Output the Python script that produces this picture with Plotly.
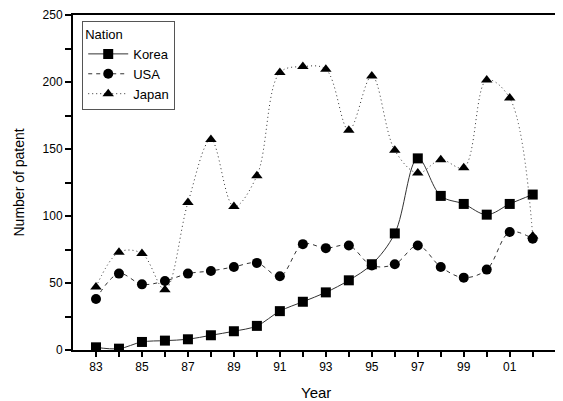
import plotly.graph_objects as go

years = list(range(83, 103))
tick_labels = ["83", "", "85", "", "87", "", "89", "", "91", "", "93", "", "95", "", "97", "", "99", "", "01", ""]

korea = [2, 1, 6, 7, 8, 11, 14, 18, 29, 36, 43, 52, 64, 87, 143, 115, 109, 101, 109, 116]
usa = [38, 57, 49, 51.5, 57, 59, 62, 65, 55, 79, 76, 78, 63, 64, 78, 62, 54, 60, 88, 83]
japan = [47, 73, 72, 45, 110, 157, 107, 130, 207, 211.5, 209.5, 164, 204.5, 149, 132, 142, 136, 201.5, 188, 85]

FONT = "Liberation Sans, Arial, sans-serif"

fig = go.Figure()
series = [
    ("Korea", korea, "solid", "square"),
    ("USA", usa, "4px,4px", "circle"),
    ("Japan", japan, "1px,3px", "triangle-up"),
]
for name, vals, dash, sym in series:
    fig.add_trace(go.Scatter(
        x=years, y=vals, name=name, mode="lines+markers",
        line=dict(color="#333333", width=1, dash=dash, shape="spline", smoothing=1),
        marker=dict(symbol=sym, size=10, color="black"),
    ))

# the page body adds an 8px offset; the figure is sized so the plot lands in place
fig.update_layout(
    width=555, height=393,
    margin=dict(l=65, r=5, t=7, b=51, autoexpand=False),
    paper_bgcolor="white", plot_bgcolor="white",
    font=dict(family=FONT, size=12, color="black"),
    showlegend=True,
    legend=dict(
        title=dict(text="Nation", font=dict(size=13)),
        x=0.019, y=0.982, xanchor="left", yanchor="top",
        bordercolor="#555555", borderwidth=1, bgcolor="white",
        font=dict(size=13), tracegroupgap=0, itemwidth=40,
    ),
    xaxis=dict(
        range=[82, 103.1], tickmode="array", tickvals=years, ticktext=tick_labels,
        ticks="outside", ticklen=5, tickwidth=1.5, tickcolor="black",
        showline=True, linecolor="black", linewidth=2, mirror=True,
        showgrid=False, zeroline=False, automargin=False,
        tickfont=dict(size=12, family=FONT),
    ),
    yaxis=dict(
        range=[0, 250], tickmode="linear", tick0=0, dtick=50,
        ticks="outside", ticklen=6, tickwidth=1.5, tickcolor="black",
        minor=dict(dtick=25, ticks="outside", ticklen=6, tickwidth=1.5, tickcolor="black"),
        showline=True, linecolor="black", linewidth=2, mirror=True,
        showgrid=False, zeroline=False, automargin=False,
        tickfont=dict(size=12, family=FONT),
    ),
    annotations=[
        dict(text="Year", xref="paper", yref="paper", x=0.5, y=0, yshift=-42,
             xanchor="center", yanchor="middle", showarrow=False, font=dict(size=15)),
        dict(text="Number of patent", xref="paper", yref="paper", x=0, xshift=-55, y=0.5,
             xanchor="center", yanchor="middle", textangle=-90, showarrow=False, font=dict(size=14)),
    ],
)

fig.write_html("out.html")
